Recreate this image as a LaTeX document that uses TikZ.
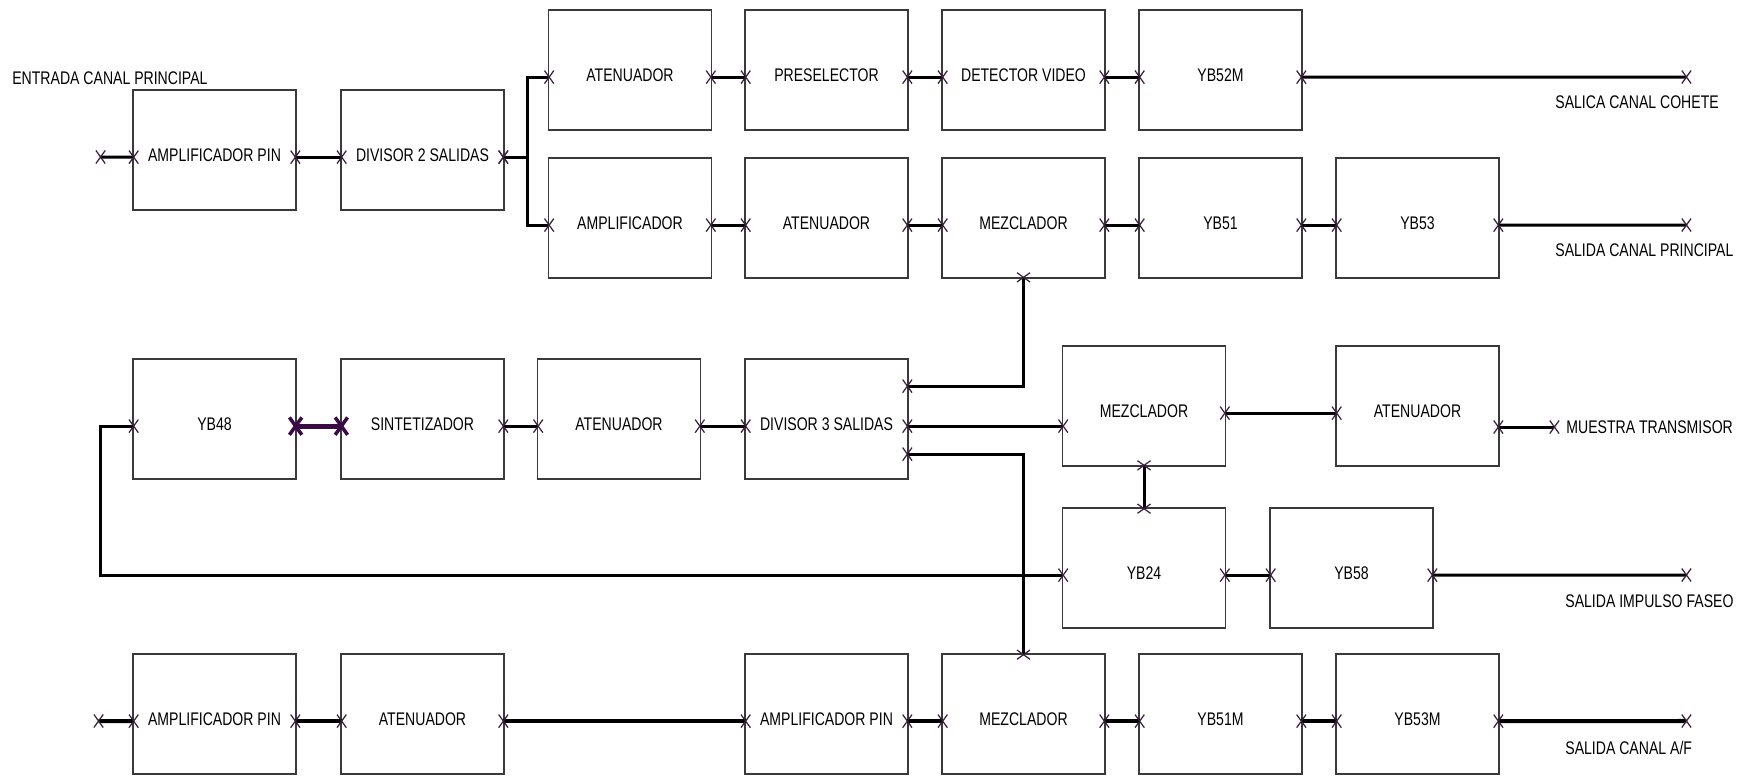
\documentclass[tikz,border=0pt]{standalone}
\usepackage{fontspec}
\setmainfont[FakeStretch=0.77]{Liberation Sans}
\usetikzlibrary{arrows.meta}
\definecolor{boxgray}{RGB}{58,58,58}
\definecolor{xmark}{RGB}{60,30,64}
\definecolor{xbold}{RGB}{58,10,70}
\tikzset{
	Xmark/.tip={Rays[n=4,length=7.5pt,width=10.5pt,line width=0.7pt,color=xmark]},
	Xbold/.tip={Rays[n=4,length=10pt,width=14pt,line width=2pt,color=xbold]},
	box/.style={draw=boxgray,line width=0.9pt,minimum width=3.26cm,minimum height=2.4cm,inner sep=0pt,text height=0.47cm,text depth=0pt},
	link/.style={Xmark-Xmark,line width=1.7pt,shorten >=-3.75pt,shorten <=-3.75pt},
	heavylink/.style={link,line width=2.3pt},
	boldlink/.style={Xbold-Xbold,line width=2.8pt,draw=xbold,shorten >=-5pt,shorten <=-5pt},
	lbl/.style={anchor=west,inner sep=0pt,text height=0.26cm,text depth=0pt}
}

\begin{document}
\begin{tikzpicture}[x=0.02cm, y=-0.02cm, font=\fontsize{10.4}{12}\selectfont]
	\useasboundingbox (0,0) rectangle (1750,775);
	% cadena principal
	\node[lbl] (entrada) at (12,78) {ENTRADA CANAL PRINCIPAL};
	\coordinate (in0) at (102,157);
	\node[box] (amppin1) at (214.5,150) {AMPLIFICADOR PIN};
	\node[box] (div2) at (422.5,150) {DIVISOR 2 SALIDAS};
	\node[box] (aten1) at (630,70) {ATENUADOR};
	\node[box] (presel) at (826.5,70) {PRESELECTOR};
	\node[box] (detvid) at (1023.5,70) {DETECTOR VIDEO};
	\node[box] (yb52m) at (1220.5,70) {YB52M};
	\coordinate (out1) at (1685,77);
	\node[lbl] (salcohete) at (1555,102) {SALICA CANAL COHETE};
	\node[box] (ampli) at (630,218) {AMPLIFICADOR};
	\node[box] (aten2) at (826.5,218) {ATENUADOR};
	\node[box] (mezcl1) at (1023.5,218) {MEZCLADOR};
	\node[box] (yb51) at (1220.5,218) {YB51};
	\node[box] (yb53) at (1417.5,218) {YB53};
	\coordinate (out2) at (1685,225);
	\node[lbl] (salprincipal) at (1555,250) {SALIDA CANAL PRINCIPAL};
	% oscilador local
	\node[box] (yb48) at (214.5,419) {YB48};
	\node[box] (sintet) at (422.5,419) {SINTETIZADOR};
	\node[box] (aten3) at (619,419) {ATENUADOR};
	\node[box] (div3) at (826.5,419) {DIVISOR 3 SALIDAS};
	\node[box] (mezcl2) at (1144,406) {MEZCLADOR};
	\node[box] (aten4) at (1417.5,406) {ATENUADOR};
	\coordinate (muestra) at (1553,427);
	\node[lbl] (txmuestra) at (1566,427) {MUESTRA TRANSMISOR};
	\node[box] (yb24) at (1144,568) {YB24};
	\node[box] (yb58) at (1351.5,568) {YB58};
	\coordinate (out4) at (1685,575);
	\node[lbl] (salfaseo) at (1565,601) {SALIDA IMPULSO FASEO};
	% canal A/F
	\coordinate (in5) at (100,721);
	\node[box] (amppin2) at (214.5,714) {AMPLIFICADOR PIN};
	\node[box] (aten5) at (422.5,714) {ATENUADOR};
	\node[box] (amppin3) at (826.5,714) {AMPLIFICADOR PIN};
	\node[box] (mezcl3) at (1023.5,714) {MEZCLADOR};
	\node[box] (yb51m) at (1220.5,714) {YB51M};
	\node[box] (yb53m) at (1417.5,714) {YB53M};
	\coordinate (out5) at (1685,721);
	\node[lbl] (salaf) at (1565,748) {SALIDA CANAL A/F};

	\draw[link] (in0) -- (amppin1.mid west);
	\draw[link] (amppin1.mid east) -- (div2.mid west);
	\draw[link] (div2.mid east) -- ++(23,0) |- (aten1.mid west);
	\draw[link] (div2.mid east) -- ++(23,0) |- (ampli.mid west);
	\draw[link] (aten1.mid east) -- (presel.mid west);
	\draw[link] (presel.mid east) -- (detvid.mid west);
	\draw[link] (detvid.mid east) -- (yb52m.mid west);
	\draw[link] (yb52m.mid east) -- (out1);
	\draw[link] (ampli.mid east) -- (aten2.mid west);
	\draw[link] (aten2.mid east) -- (mezcl1.mid west);
	\draw[link] (mezcl1.mid east) -- (yb51.mid west);
	\draw[link] (yb51.mid east) -- (yb53.mid west);
	\draw[link] (yb53.mid east) -- (out2);

	\draw[boldlink] (yb48.mid east) -- (sintet.mid west);
	\draw[link] (sintet.mid east) -- (aten3.mid west);
	\draw[link] (aten3.mid east) -- (div3.mid west);
	\draw[link] ([yshift=0.8cm]div3.mid east) -| (mezcl1.south);
	\draw[link] (div3.mid east) -- (div3.mid east -| mezcl2.west);
	\draw[link] ([yshift=-0.56cm]div3.mid east) -| (mezcl3.north);
	\draw[link] (mezcl2.mid east) -- (aten4.mid west);
	\draw[link] (aten4.east |- muestra) -- (muestra);
	\draw[link] (mezcl2.south) -- (yb24.north);
	\draw[link] (yb48.mid west) -- ++(-32,0) |- (yb24.mid west);
	\draw[link] (yb24.mid east) -- (yb58.mid west);
	\draw[link] (yb58.mid east) -- (out4);

	\draw[heavylink] (in5) -- (amppin2.mid west);
	\draw[heavylink] (amppin2.mid east) -- (aten5.mid west);
	\draw[heavylink] (aten5.mid east) -- (amppin3.mid west);
	\draw[heavylink] (amppin3.mid east) -- (mezcl3.mid west);
	\draw[heavylink] (mezcl3.mid east) -- (yb51m.mid west);
	\draw[heavylink] (yb51m.mid east) -- (yb53m.mid west);
	\draw[heavylink] (yb53m.mid east) -- (out5);
\end{tikzpicture}
\end{document}
